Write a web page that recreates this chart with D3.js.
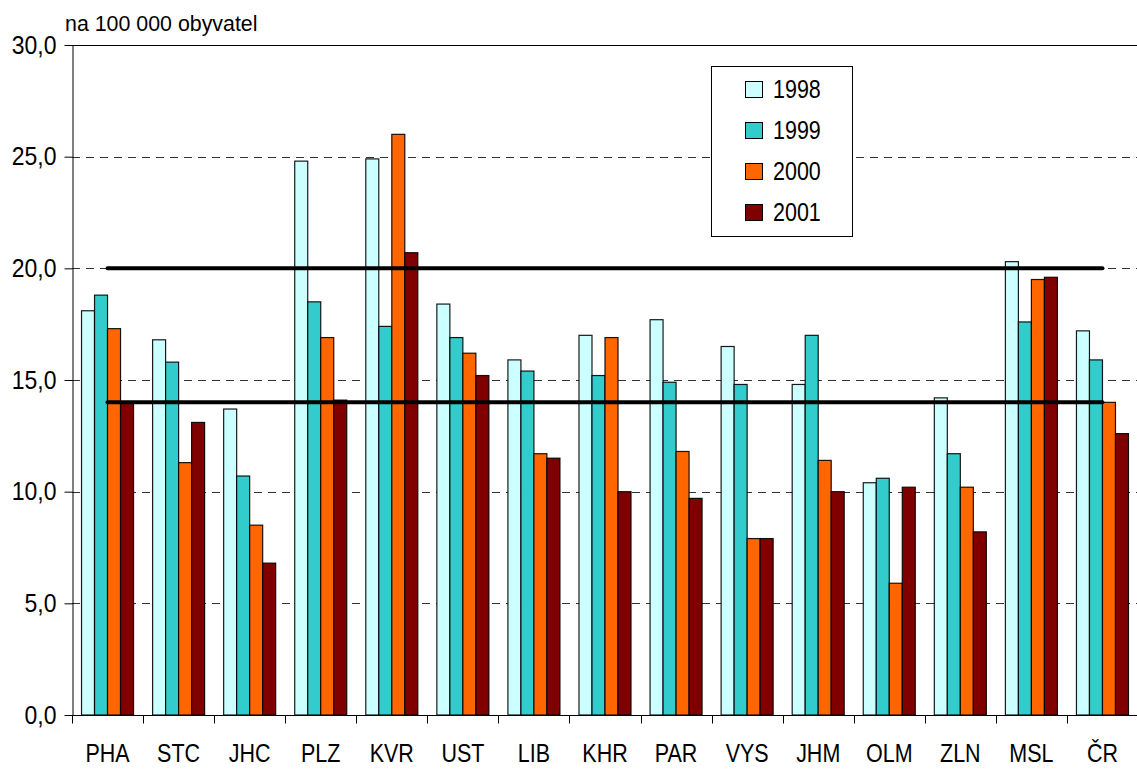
<!DOCTYPE html>
<html>
<head>
<meta charset="utf-8">
<script src="https://cdn.jsdelivr.net/npm/d3@7"></script>
<style>
  body { margin: 0; background: #fff; }
  svg text { font-family: "Liberation Sans", Arial, sans-serif; fill: #000; }
  .sx { transform-box: fill-box; }
</style>
</head>
<body>
<div id="chart"></div>
<script>
// data (per 100 000 inhabitants)
var categories = ["PHA", "STC", "JHC", "PLZ", "KVR", "UST", "LIB", "KHR", "PAR", "VYS", "JHM", "OLM", "ZLN", "MSL", "ČR"];
var years = ["1998", "1999", "2000", "2001"];
var v1998 = [18.1, 16.8, 13.7, 24.8, 24.9, 18.4, 15.9, 17.0, 17.7, 16.5, 14.8, 10.4, 14.2, 20.3, 17.2];
var v1999 = [18.8, 15.8, 10.7, 18.5, 17.4, 16.9, 15.4, 15.2, 14.9, 14.8, 17.0, 10.6, 11.7, 17.6, 15.9];
var v2000 = [17.3, 11.3, 8.5, 16.9, 26.0, 16.2, 11.7, 16.9, 11.8, 7.9, 11.4, 5.9, 10.2, 19.5, 14.0];
var v2001 = [14.0, 13.1, 6.8, 14.1, 20.7, 15.2, 11.5, 10.0, 9.7, 7.9, 10.0, 10.2, 8.2, 19.6, 12.6];
var yTicks = [0, 5, 10, 15, 20, 25, 30];
var refLines = [20, 14];
var unitLabel = "na 100 000 obyvatel";

var colors = ["#ccffff", "#33cccc", "#ff6600", "#800000"];
var series = [v1998, v1999, v2000, v2001];

var width = 1137, height = 770;
var plotLeft = 72, plotRight = 1138, plotTop = 45, plotBottom = 715;

var svg = d3.select("#chart").append("svg")
  .attr("width", width)
  .attr("height", height);

var x = d3.scaleBand()
  .domain(categories)
  .range([plotLeft, plotRight])
  .paddingInner(0.268)
  .paddingOuter(0.134);

var x1 = d3.scaleBand()
  .domain(years)
  .range([0, x.bandwidth()]);

var y = d3.scaleLinear()
  .domain([0, 30])
  .range([plotBottom, plotTop]);

var comma = function(d) { return d3.format(".1f")(d).replace(".", ","); };

// squeeze text a bit, the original font is narrower
function squeeze(sel, k, origin) {
  sel.attr("class", "sx")
    .style("transform-origin", origin)
    .style("transform", "scaleX(" + k + ")");
}

// gridlines
svg.append("g")
  .selectAll("line")
  .data(yTicks.filter(function(d) { return d > 0; }))
  .enter().append("line")
  .attr("x1", plotLeft)
  .attr("x2", width)
  .attr("y1", function(d) { return Math.round(y(d)) + 0.5; })
  .attr("y2", function(d) { return Math.round(y(d)) + 0.5; })
  .attr("stroke", function(d) { return d === 30 ? "#000" : "#333"; })
  .attr("stroke-width", 1)
  .attr("stroke-dasharray", function(d) { return d === 30 ? null : "8,6"; });

// bars
var groups = svg.append("g")
  .selectAll("g")
  .data(categories)
  .enter().append("g")
  .attr("transform", function(d) { return "translate(" + x(d) + ",0)"; });

groups.selectAll("rect")
  .data(function(d, i) { return years.map(function(yr, j) { return {year: yr, value: series[j][i], j: j}; }); })
  .enter().append("rect")
  .attr("x", function(d) { return x1(d.year); })
  .attr("y", function(d) { return y(d.value); })
  .attr("width", x1.bandwidth())
  .attr("height", function(d) { return y(0) - y(d.value); })
  .attr("fill", function(d) { return colors[d.j]; })
  .attr("stroke", "#000")
  .attr("stroke-opacity", 0.9)
  .attr("stroke-width", 1.2);

// thick reference lines from first to last category centre
svg.append("g")
  .selectAll("line")
  .data(refLines)
  .enter().append("line")
  .attr("x1", x(categories[0]) + x.bandwidth() / 2)
  .attr("x2", x(categories[categories.length - 1]) + x.bandwidth() / 2)
  .attr("y1", function(d) { return y(d); })
  .attr("y2", function(d) { return y(d); })
  .attr("stroke", "#000")
  .attr("stroke-width", 4)
  .attr("stroke-linecap", "round");

// y axis
var yAxis = svg.append("g")
  .attr("transform", "translate(" + (plotLeft + 0.5) + ",0)")
  .call(d3.axisLeft(y).tickValues(yTicks).tickFormat(comma).tickSize(8).tickSizeOuter(0).tickPadding(8));
yAxis.select(".domain").attr("stroke", "#000");
yAxis.selectAll(".tick line").attr("stroke", "#000");
yAxis.selectAll(".tick text")
  .style("font-size", "25px")
  .style("font-family", "'Liberation Sans', Arial, sans-serif")
  .call(squeeze, 0.92, "right center");

// x axis: labels at centres, ticks at band boundaries
var xAxis = svg.append("g")
  .attr("transform", "translate(0," + (plotBottom + 0.5) + ")")
  .call(d3.axisBottom(x).tickSize(0).tickSizeOuter(0).tickPadding(0));
xAxis.select(".domain").attr("stroke", "#000").attr("d", "M" + plotLeft + ",0H" + width);
xAxis.selectAll(".tick text")
  .attr("y", 47)
  .attr("dy", 0)
  .style("font-size", "25px")
  .style("font-family", "'Liberation Sans', Arial, sans-serif")
  .call(squeeze, 0.86, "center");

var step = x.step();
xAxis.append("g")
  .selectAll("line")
  .data(categories)
  .enter().append("line")
  .attr("x1", function(d) { return Math.round(x(d) - step * x.paddingInner() / 2) + 0.5; })
  .attr("x2", function(d) { return Math.round(x(d) - step * x.paddingInner() / 2) + 0.5; })
  .attr("y1", 0)
  .attr("y2", 8)
  .attr("stroke", "#000");

// unit label
svg.append("text")
  .attr("x", 65)
  .attr("y", 31)
  .style("font-size", "23px")
  .text(unitLabel)
  .call(squeeze, 0.93, "left center");

// legend
var legend = svg.append("g");
legend.append("rect")
  .attr("x", 711.5)
  .attr("y", 66.5)
  .attr("width", 141)
  .attr("height", 170)
  .attr("fill", "#fff")
  .attr("stroke", "#000");

var item = legend.selectAll("g")
  .data(years)
  .enter().append("g")
  .attr("transform", function(d, i) { return "translate(0," + (89 + i * 41) + ")"; });

item.append("rect")
  .attr("x", 745.5)
  .attr("y", -7.5)
  .attr("width", 17)
  .attr("height", 16)
  .attr("fill", function(d, i) { return colors[i]; })
  .attr("stroke", "#000");

item.append("text")
  .attr("x", 773)
  .attr("y", 9)
  .style("font-size", "25px")
  .text(function(d) { return d; })
  .call(squeeze, 0.86, "left center");
</script>
</body>
</html>
